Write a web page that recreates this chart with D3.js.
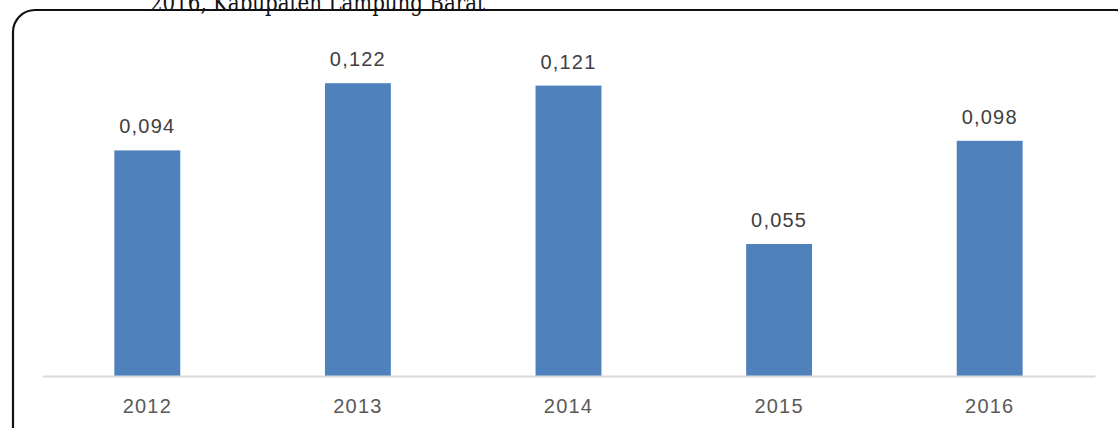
<!DOCTYPE html>
<html>
<head>
<meta charset="utf-8">
<script src="https://cdn.jsdelivr.net/npm/d3@7"></script>
<style>
    body { margin: 0; background: #fff; }
    svg { display: block; }
</style>
</head>
<body>
<div id="chart"></div>
<script>
var years = ['2012', '2013', '2014', '2015', '2016'];
var values = [0.094, 0.122, 0.121, 0.055, 0.098];
var valueLabels = ['0,094', '0,122', '0,121', '0,055', '0,098'];
var titleText = '2016, Kabupaten Lampung Barat';

var W = 1118, H = 428;

var svg = d3.select('#chart').append('svg')
    .attr('width', W)
    .attr('height', H);

// title line (only its lower part shows at the top of the picture)
svg.append('text')
    .attr('x', 150)
    .attr('y', 11)
    .attr('font-family', 'DejaVu Serif, Liberation Serif, serif')
    .attr('font-size', 25)
    .attr('fill', '#111')
    .attr('textLength', 335)
    .attr('lengthAdjust', 'spacingAndGlyphs')
    .text(titleText);

// rounded chart frame
svg.append('rect')
    .attr('x', 13)
    .attr('y', 10)
    .attr('width', 1125)
    .attr('height', 440)
    .attr('rx', 22)
    .attr('fill', 'none')
    .attr('stroke', '#111')
    .attr('stroke-width', 2.2);

var x = d3.scaleBand()
    .domain(years)
    .range([42, 1095])
    .paddingInner(0.687)
    .paddingOuter(0.3435);

var y = d3.scaleLinear()
    .domain([0, 0.14])
    .range([376, 40]);

// bars
svg.selectAll('rect.bar')
    .data(values)
    .enter().append('rect').classed('bar', true)
    .attr('x', function(d, i) { return x(years[i]); })
    .attr('y', function(d) { return y(d); })
    .attr('width', x.bandwidth())
    .attr('height', function(d) { return y(0) - y(d); })
    .attr('fill', '#4f81bd');

// value labels
svg.selectAll('text.val')
    .data(values)
    .enter().append('text').classed('val', true)
    .attr('x', function(d, i) { return x(years[i]) + x.bandwidth() / 2; })
    .attr('y', function(d) { return y(d) - 17; })
    .attr('text-anchor', 'middle')
    .attr('font-family', 'Liberation Sans, Arial, sans-serif')
    .attr('font-size', 20)
    .attr('letter-spacing', 1.2)
    .attr('fill', '#404040')
    .text(function(d, i) { return valueLabels[i]; });

// x axis
var axis = svg.append('g')
    .attr('transform', 'translate(0,' + y(0) + ')')
    .call(d3.axisBottom(x).tickSize(0).tickPadding(37));

axis.select('.domain')
    .attr('stroke', '#d9d9d9')
    .attr('stroke-width', 2);

axis.selectAll('text')
    .attr('dy', 0)
    .attr('font-family', 'Liberation Sans, Arial, sans-serif')
    .attr('font-size', 20)
    .attr('letter-spacing', 1.2)
    .attr('fill', '#595959');
</script>
</body>
</html>
